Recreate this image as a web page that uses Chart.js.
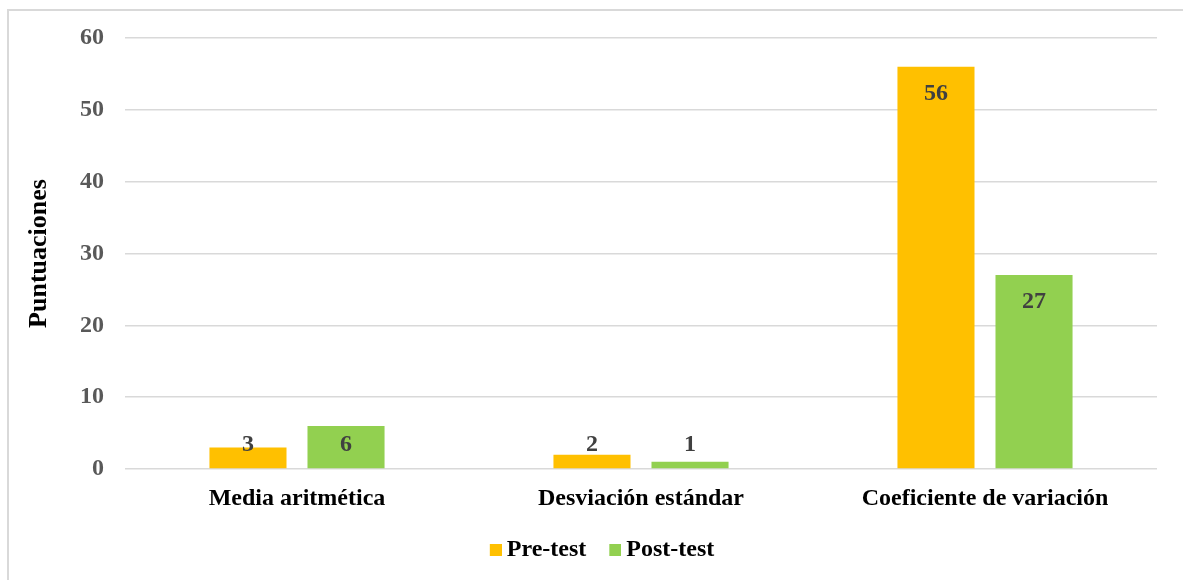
<!DOCTYPE html>
<html>
<head>
<meta charset="utf-8">
<script src="https://cdn.jsdelivr.net/npm/chart.js@4/dist/chart.umd.min.js"></script>
<style>
  html, body { margin: 0; padding: 0; background: #fff; }
  #wrap { position: relative; width: 1183px; height: 580px; overflow: hidden; }
  #frame { position: absolute; left: 7px; top: 9px; width: 1300px; height: 700px; border: 2px solid #d9d9d9; }
  #chart { position: absolute; left: 0; top: 0; }
</style>
</head>
<body>
<div id="wrap">
  <div id="frame"></div>
  <canvas id="chart" width="1183" height="580"></canvas>
</div>
<script>
const categorias = ['Media aritmética', 'Desviación estándar', 'Coeficiente de variación'];
const preTest = [3, 2, 56];
const postTest = [6, 1, 27];
const ticksY = [0, 10, 20, 30, 40, 50, 60];
const colores = ['#FFC000', '#92D050'];

const fuente = "'Liberation Serif', 'Times New Roman', serif";

// cuadradito de leyenda pegado al texto (el hueco por defecto es medio cuerpo de letra)
function marcaLeyenda(color) {
    const c = document.createElement('canvas');
    c.width = 24;
    c.height = 12;
    const g = c.getContext('2d');
    g.fillStyle = color;
    g.fillRect(12, 0, 12, 12);
    return c;
}

// etiquetas de valor dentro del extremo de cada barra
const etiquetas = {
    id: 'etiquetas',
    afterDatasetsDraw(chart) {
        const ctx = chart.ctx;
        const base = chart.scales.y.getPixelForValue(0);
        ctx.save();
        ctx.font = 'bold 24px ' + fuente;
        ctx.fillStyle = '#404040';
        ctx.textAlign = 'center';
        ctx.textBaseline = 'middle';
        chart.data.datasets.forEach((ds, i) => {
            chart.getDatasetMeta(i).data.forEach((bar, j) => {
                const y = Math.min(bar.y + 27, base - 24);
                ctx.fillText(ds.data[j], bar.x, y);
            });
        });
        ctx.restore();
    }
};

// la leyenda va un poco a la derecha del centro del lienzo
const moverLeyenda = {
    id: 'moverLeyenda',
    afterLayout(chart) {
        chart.legend.left += 9;
        chart.legend.right += 9;
    }
};

new Chart(document.getElementById('chart').getContext('2d'), {
    type: 'bar',
    data: {
        labels: categorias,
        datasets: [
            { label: 'Pre-test', data: preTest, backgroundColor: colores[0], pointStyle: marcaLeyenda(colores[0]) },
            { label: 'Post-test', data: postTest, backgroundColor: colores[1], pointStyle: marcaLeyenda(colores[1]) }
        ]
    },
    options: {
        responsive: false,
        animation: false,
        devicePixelRatio: 1,
        datasets: { bar: { categoryPercentage: 0.57, barPercentage: 0.786 } },
        layout: { padding: { left: 24, right: 26, top: 38, bottom: 8 } },
        plugins: {
            tooltip: { enabled: false },
            legend: {
                position: 'bottom',
                labels: {
                    usePointStyle: true,
                    pointStyleWidth: 10,
                    padding: 18,
                    color: '#000',
                    font: { family: fuente, size: 24, weight: 'bold' }
                }
            }
        },
        scales: {
            x: {
                grid: { display: false },
                border: { display: false },
                ticks: {
                    color: '#000',
                    padding: 7,
                    font: { family: fuente, size: 24, weight: 'bold' }
                },
                afterFit: s => { s.height = 51; }
            },
            y: {
                min: 0,
                max: 60,
                afterBuildTicks: s => { s.ticks = ticksY.map(v => ({ value: v })); },
                grid: { color: '#d9d9d9', lineWidth: 1.5, drawTicks: false },
                border: { display: false },
                ticks: {
                    color: '#595959',
                    padding: 21,
                    font: { family: fuente, size: 24, weight: 'bold' }
                },
                title: {
                    display: true,
                    text: 'Puntuaciones',
                    color: '#000',
                    padding: 0,
                    font: { family: fuente, size: 26, weight: 'bold' }
                },
                afterFit: s => { s.width = 101; }
            }
        }
    },
    plugins: [etiquetas, moverLeyenda]
});
</script>
</body>
</html>
